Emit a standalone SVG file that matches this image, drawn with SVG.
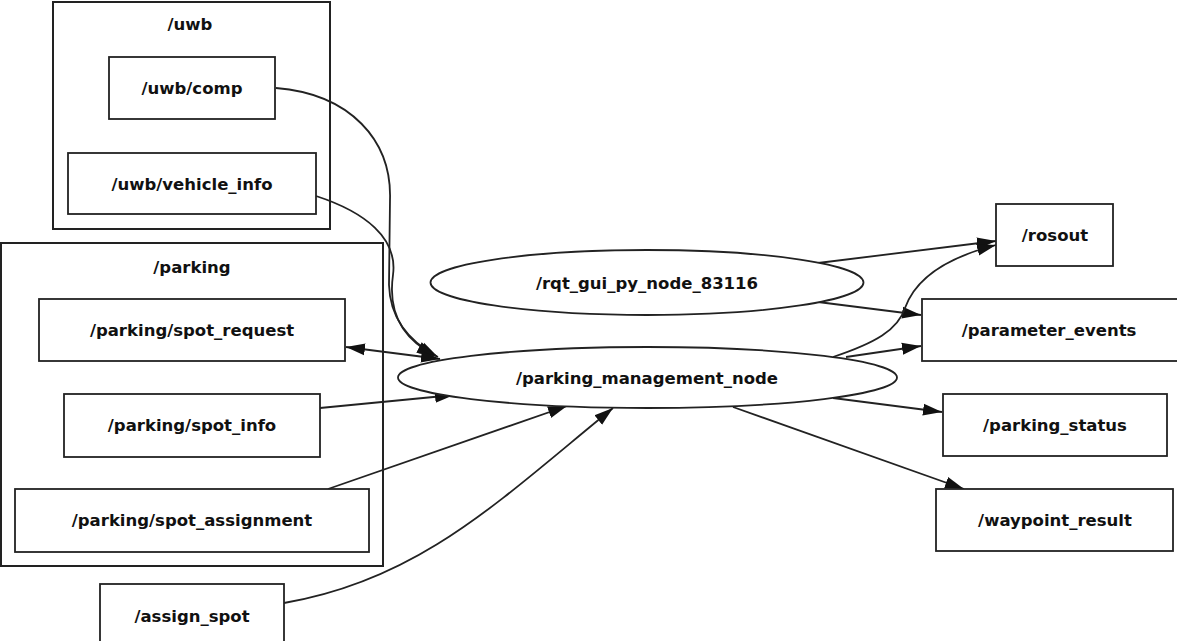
<svg xmlns="http://www.w3.org/2000/svg" width="1177" height="641" viewBox="0 0 1177 641">
<defs>
<marker id="ah" markerUnits="userSpaceOnUse" markerWidth="20" markerHeight="14" refX="19" refY="7" orient="auto-start-reverse" viewBox="0 0 20 14">
<path d="M0,1 L19,7 L0,13 z" fill="#111"/>
</marker>
<style>
.cl{fill:none;stroke:#222;stroke-width:2}
.bx{fill:#fff;stroke:#222;stroke-width:1.8}
.el{fill:#fff;stroke:#222;stroke-width:1.8}
.t{font-family:"DejaVu Sans",sans-serif;font-size:16.5px;font-weight:bold;fill:#111;text-anchor:middle;dominant-baseline:central}
.e{fill:none;stroke:#222;stroke-width:1.8;marker-end:url(#ah)}
</style>
</defs>
<rect width="1177" height="641" fill="#fff"/>
<g id="cluster_uwb">
<rect class="cl" x="53" y="2" width="277" height="227"/>
<text class="t" x="190" y="24">/uwb</text>
</g>
<g id="cluster_parking">
<rect class="cl" x="1" y="243" width="382" height="323"/>
<text class="t" x="192" y="267">/parking</text>
</g>
<g id="edges">
<path class="e" d="M276,88 C350,94 392,140 390,200 L389,285 C390,320 410,342 438,357"/>
<path class="e" d="M316,196 C365,212 398,238 393,275 C388,310 400,338 436,356"/>
<path class="e" style="marker-start:url(#ah)" d="M346,347 L440,359"/>
<path class="e" d="M320,408 L454,395"/>
<path class="e" d="M328,489 L567,406"/>
<path class="e" d="M284,603 C420,580 500,500 613,408"/>
<path class="e" d="M818,263 L996,241"/>
<path class="e" d="M818,302 L921,315"/>
<path class="e" d="M833,357 C875,343 898,330 905,308 C915,280 945,258 996,245"/>
<path class="e" d="M846,357 L921,346"/>
<path class="e" d="M833,398 L942,412"/>
<path class="e" d="M733,407 L964,489"/>
</g>
<g id="n_uwb_comp"><rect class="bx" x="109" y="57" width="166" height="62"/><text class="t" x="192" y="88">/uwb/comp</text></g>
<g id="n_uwb_vehicle_info"><rect class="bx" x="68" y="153" width="248" height="61"/><text class="t" x="192" y="184">/uwb/vehicle_info</text></g>
<g id="n_spot_request"><rect class="bx" x="39" y="299" width="306" height="62"/><text class="t" x="192" y="330">/parking/spot_request</text></g>
<g id="n_spot_info"><rect class="bx" x="64" y="394" width="256" height="63"/><text class="t" x="192" y="425">/parking/spot_info</text></g>
<g id="n_spot_assignment"><rect class="bx" x="15" y="489" width="354" height="63"/><text class="t" x="192" y="520">/parking/spot_assignment</text></g>
<g id="n_assign_spot"><rect class="bx" x="100" y="584" width="184" height="70"/><text class="t" x="192" y="616">/assign_spot</text></g>
<g id="n_rqt"><ellipse class="el" cx="647" cy="282.5" rx="216.5" ry="32.5"/><text class="t" x="647" y="283">/rqt_gui_py_node_83116</text></g>
<g id="n_pm"><ellipse class="el" cx="647.5" cy="377.5" rx="249.5" ry="30.5"/><text class="t" x="647" y="378">/parking_management_node</text></g>
<g id="n_rosout"><rect class="bx" x="996" y="204" width="117" height="62"/><text class="t" x="1055" y="235">/rosout</text></g>
<g id="n_parameter_events"><rect class="bx" x="922" y="299" width="256" height="62"/><text class="t" x="1049" y="330">/parameter_events</text></g>
<g id="n_parking_status"><rect class="bx" x="943" y="394" width="224" height="62"/><text class="t" x="1055" y="425">/parking_status</text></g>
<g id="n_waypoint_result"><rect class="bx" x="936" y="489" width="237" height="62"/><text class="t" x="1055" y="520">/waypoint_result</text></g>
</svg>
